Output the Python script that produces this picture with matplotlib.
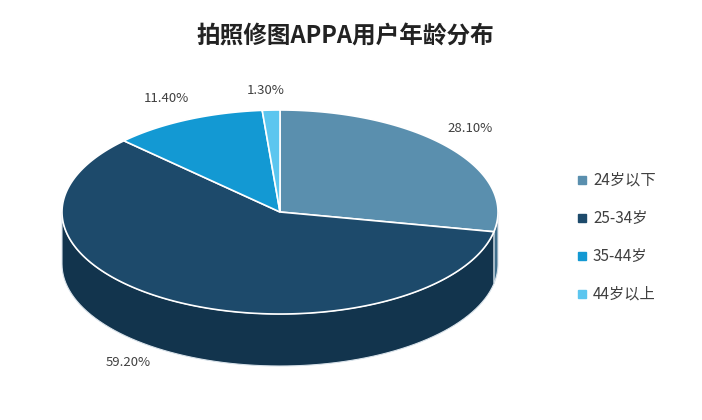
import numpy as np
import matplotlib.pyplot as plt
from matplotlib.patches import Polygon

plt.rcParams['font.family'] = ['Noto Sans CJK SC', 'DejaVu Sans']

labels = ["24岁以下", "25-34岁", "35-44岁", "44岁以上"]
shares = [28.1, 59.2, 11.4, 1.3]
pct_text = ["28.10%", "59.20%", "11.40%", "1.30%"]
top_colors = ["#5a8fae", "#1d4a6b", "#1399d3", "#5cc6ef"]
side_colors = ["#3f6f8c", "#12344d", "#0d77a8", "#3aa5cf"]

W, H = 702, 420
cx, cy, rx, ry, depth = 280, 212, 218, 102, 52

fig = plt.figure(figsize=(W / 100, H / 100), dpi=100)
ax = fig.add_axes([0, 0, 1, 1])
ax.set_xlim(0, W)
ax.set_ylim(H, 0)
ax.axis("off")


def pt(t, dy=0):
    return cx + rx * np.cos(t), cy - ry * np.sin(t) + dy


fracs = np.array(shares) / sum(shares)
starts = np.deg2rad(90 - 360 * np.concatenate([[0], np.cumsum(fracs)[:-1]]))
ends = starts - 2 * np.pi * fracs

# side walls (front half only)
for s, e, c in zip(starts, ends, side_colors):
    a = max(e, -np.pi) if s > -np.pi else None
    lo, hi = max(e, -np.pi), min(s, 0)
    if lo >= hi:
        continue
    t = np.linspace(hi, lo, 80)
    x, y = pt(t)
    xb, yb = pt(t[::-1], depth)
    poly = np.column_stack([np.concatenate([x, xb]), np.concatenate([y, yb])])
    ax.add_patch(Polygon(poly, closed=True, fc=c, ec="#d8e2ea", lw=0.8))

# top surface
for s, e, c in zip(starts, ends, top_colors):
    t = np.linspace(s, e, 200)
    x, y = pt(t)
    poly = np.column_stack([np.concatenate([[cx], x]), np.concatenate([[cy], y])])
    ax.add_patch(Polygon(poly, closed=True, fc=c, ec="white", lw=1.2))

label_pos = [(470, 128), (128, 362), (166, 98), (266, 90)]
for (lx, ly), txt in zip(label_pos, pct_text):
    ax.text(lx, ly, txt, ha="center", va="center", fontsize=9.5, color="#404040")

ax.text(345, 36, "拍照修图APPA用户年龄分布", ha="center", va="center",
        fontsize=17, fontweight="bold", color="#222222")

for i, (lab, c) in enumerate(zip(labels, top_colors)):
    y = 180 + i * 38
    ax.plot(582, y, marker="s", ms=6, color=c)
    ax.text(593, y, lab, ha="left", va="center", fontsize=11, color="#404040")

fig.savefig("out.png", dpi=100)
